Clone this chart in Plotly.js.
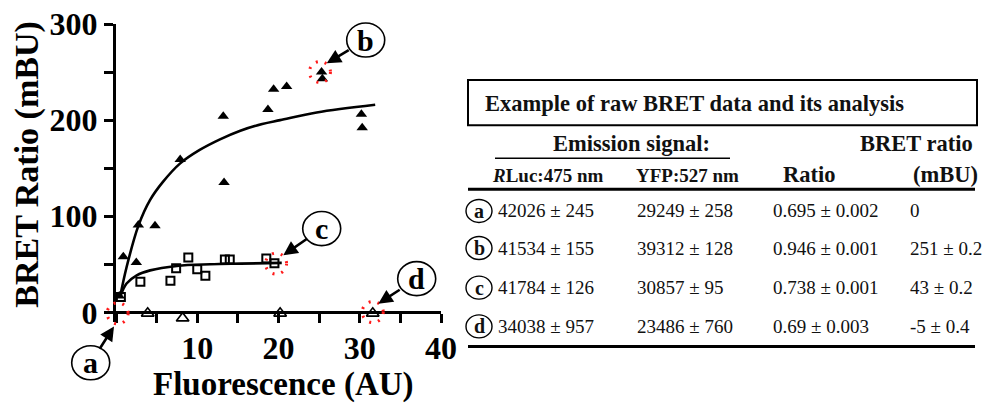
<!DOCTYPE html>
<html>
<head>
<meta charset="utf-8">
<script src="https://cdn.plot.ly/plotly-3.0.1.min.js"></script>
<style>html,body{margin:0;padding:0;background:#fff;}#chart{width:991px;height:404px;}</style>
</head>
<body>
<div id="chart"></div>
<script>
// ---- Chart data ----
const filledTriX = [0.4, 0.9, 2.5, 2.75, 4.8, 7.9, 13.2, 13.3, 18.7, 19.4, 21.0, 25.3, 25.4, 30.2, 30.3];
const filledTriY = [17, 58, 52, 91, 90, 159, 204, 135, 211, 232, 235, 250, 243, 206, 192];
const squareX = [0.6, 3.0, 6.7, 7.4, 8.9, 10.0, 11.0, 13.4, 14.0, 18.5, 19.5];
const squareY = [16, 32, 33, 46, 57, 45, 38, 55, 55, 56, 51];
const openTriX = [3.9, 8.2, 20.2, 31.6];
const openTriY = [-1, -6, -1, -1];
const fitTopX = [0.5, 1.3, 2.75, 4.2, 5.8, 7.9, 10.3, 12.8, 15.3, 18.0, 20.2, 24.7, 31.9];
const fitTopY = [16, 47, 90, 117, 136, 155, 169, 180, 189, 196, 200, 208, 216];
const fitLowX = [0.5, 1.3, 2.55, 4.2, 7.5, 11.6, 15.3, 20.4];
const fitLowY = [16, 30, 38.5, 43.7, 48.3, 50, 50.7, 51.5];

const xTickVals = [0, 5, 10, 15, 20, 25, 30, 35, 40];
const xTickText = ['', '', '10', '', '20', '', '30', '', '40'];
const yTickVals = [0, 50, 100, 150, 200, 250, 300];
const yTickText = ['0', '', '100', '', '200', '', '300'];
const xTitle = 'Fluorescence (AU)';
const yTitle = 'BRET Ratio (mBU)';

// highlighted example points (a, b, c, d)
const pointLabels = ['a', 'b', 'c', 'd'];
const pointX = [0.2, 25.1, 19.7, 31.6];
const pointY = [-1, 250, 50.7, 0.3];

// ---- Table data ----
const tableTitle = 'Example of raw BRET data and its analysis';
const rowLabels = ['a', 'b', 'c', 'd'];
const rlucVals = ['42026 ± 245', '41534 ± 155', '41784 ± 126', '34038 ± 957'];
const yfpVals = ['29249 ± 258', '39312 ± 128', '30857 ± 95', '23486 ± 760'];
const ratioVals = ['0.695 ± 0.002', '0.946 ± 0.001', '0.738 ± 0.001', '0.69 ± 0.003'];
const bretVals = ['0', '251 ± 0.2', '43 ± 0.2', '-5 ± 0.4'];

// ---- Layout helpers ----
const X_RANGE = [0, 40], Y_RANGE = [-10, 300];
const L = 116, R = 441, T = 24, PB = 321.6, ORIGIN_Y = 312;
const PX = p => (p - L) / (R - L);          // page pixel -> paper x
const PY = p => (PB - p) / (PB - T);        // page pixel -> paper y
const DX = v => (v - X_RANGE[0]) / (X_RANGE[1] - X_RANGE[0]);  // data -> paper x
const DY = v => (v - Y_RANGE[0]) / (Y_RANGE[1] - Y_RANGE[0]);  // data -> paper y
const FAM = '"Liberation Serif", "Times New Roman", "DejaVu Serif", serif';

const traces = [
  {x: fitTopX, y: fitTopY, mode: 'lines', line: {color: '#000', width: 2.6, shape: 'spline'}, hoverinfo: 'skip'},
  {x: fitLowX, y: fitLowY, mode: 'lines', line: {color: '#000', width: 2.6, shape: 'spline'}, hoverinfo: 'skip'},
  {x: filledTriX, y: filledTriY, mode: 'markers', cliponaxis: false,
   marker: {symbol: 'triangle-up', size: 10, color: '#000', line: {width: 0}}},
  {x: squareX, y: squareY, mode: 'markers', cliponaxis: false,
   marker: {symbol: 'square-open', size: 8, color: '#000', line: {width: 2}}},
  {x: openTriX, y: openTriY, mode: 'markers', cliponaxis: false,
   marker: {symbol: 'triangle-up', size: 11, color: '#fff', line: {width: 1.6, color: '#000'}}}
];

const shapes = [];
const annotations = [];

// red dotted circles around example points
pointX.forEach((px, i) => {
  shapes.push({type: 'circle', xref: 'paper', yref: 'paper', xsizemode: 'pixel', ysizemode: 'pixel',
    xanchor: DX(px), yanchor: DY(pointY[i]), x0: -10.5, x1: 10.5, y0: -10.5, y1: 10.5,
    line: {color: '#ff1a1a', width: 3, dash: '2px,7px'}});
});

// circled letters with arrows (pixel centers of the circles / arrow tips)
const labelCenters = [[90.7, 362.3], [365.7, 40], [321.7, 228.3], [416.7, 278.3]];
const labelTips = [[114, 326], [326.7, 63.3], [283.3, 255], [378.3, 303.3]];
const labelPads = [1, 8, 8, 8];
pointLabels.forEach((lab, i) => {
  const c = labelCenters[i], t = labelTips[i];
  shapes.push({type: 'circle', xref: 'paper', yref: 'paper',
    x0: PX(c[0] - 19), x1: PX(c[0] + 19), y0: PY(c[1] + 17), y1: PY(c[1] - 17),
    line: {color: '#000', width: 1.6}});
  annotations.push({xref: 'paper', yref: 'paper', x: PX(t[0]), y: PY(t[1]),
    ax: c[0] - t[0], ay: c[1] - t[1], axref: 'pixel', ayref: 'pixel',
    text: '<b>' + lab + '</b>', font: {family: FAM, size: 30, color: '#000'},
    showarrow: true, arrowhead: 2, arrowsize: 1.1, arrowwidth: 2.6, arrowcolor: '#000',
    borderpad: labelPads[i], standoff: 0});
});

// axis titles
annotations.push({xref: 'paper', yref: 'paper', x: PX(283), y: PY(403.5), text: '<b>' + xTitle + '</b>',
  xanchor: 'center', yanchor: 'bottom', showarrow: false, borderpad: 0,
  font: {family: FAM, size: 33, color: '#000'}});
annotations.push({xref: 'paper', yref: 'paper', x: PX(27.5), y: PY(164), text: '<b>' + yTitle + '</b>',
  textangle: -90, xanchor: 'center', yanchor: 'middle', showarrow: false, borderpad: 0,
  font: {family: FAM, size: 34, color: '#000'}});

// ---- table ----
shapes.push({type: 'rect', xref: 'paper', yref: 'paper', x0: PX(468), x1: PX(977), y0: PY(125), y1: PY(80),
  line: {color: '#000', width: 2}});
shapes.push({type: 'line', xref: 'paper', yref: 'paper', x0: PX(495), x1: PX(730), y0: PY(158), y1: PY(158),
  line: {color: '#000', width: 1.6}});
shapes.push({type: 'line', xref: 'paper', yref: 'paper', x0: PX(468), x1: PX(975), y0: PY(189), y1: PY(189),
  line: {color: '#000', width: 3}});
shapes.push({type: 'line', xref: 'paper', yref: 'paper', x0: PX(468), x1: PX(975), y0: PY(346), y1: PY(346),
  line: {color: '#000', width: 3}});

function txt(text, px, py, size, anchor) {
  annotations.push({xref: 'paper', yref: 'paper', x: PX(px), y: PY(py), text: text,
    xanchor: anchor || 'left', yanchor: 'middle', showarrow: false, borderpad: 0,
    font: {family: FAM, size: size, color: '#111'}});
}
txt('<b>' + tableTitle + '</b>', 484, 103, 22.5);
txt('<b>Emission signal:</b>', 631, 143, 22.5, 'center');
txt('<b>BRET ratio</b>', 859, 143, 22.5);
txt('<b><i>R</i>Luc:475 nm</b>', 491, 175, 19);
txt('<b>YFP:527 nm</b>', 635, 175, 19);
txt('<b>Ratio</b>', 782, 174, 22.5);
txt('<b>(mBU)</b>', 912, 174, 22.5);

const rowY = [210.7, 247.7, 287.3, 326];
const colX = [497, 636, 772, 909];
rowLabels.forEach((lab, i) => {
  const y = rowY[i];
  shapes.push({type: 'circle', xref: 'paper', yref: 'paper',
    x0: PX(479 - 13), x1: PX(479 + 13), y0: PY(y + 11.5), y1: PY(y - 11.5),
    line: {color: '#000', width: 1.4}});
  txt('<b>' + lab + '</b>', 479, y, 20, 'center');
  txt(rlucVals[i], colX[0], y, 19);
  txt(yfpVals[i], colX[1], y, 19);
  txt(ratioVals[i], colX[2], y, 19);
  txt(bretVals[i], colX[3], y, 19);
});

const axisFont = {family: FAM, size: 32, color: '#000', weight: 'bold'};
const layout = {
  width: 991, height: 404,
  margin: {l: L, r: 991 - R, t: T, b: 404 - PB, pad: 0},
  paper_bgcolor: '#fff', plot_bgcolor: '#fff',
  showlegend: false,
  font: {family: FAM},
  xaxis: {range: X_RANGE, tickmode: 'array', tickvals: xTickVals, ticktext: xTickText,
    anchor: 'free', position: PY(ORIGIN_Y),
    showline: true, linewidth: 3, linecolor: '#000', ticks: 'outside', ticklen: 9, tickwidth: 3, tickcolor: '#000',
    showgrid: false, zeroline: false, tickfont: axisFont, ticklabelstandoff: -3},
  yaxis: {range: Y_RANGE, tickmode: 'array', tickvals: yTickVals, ticktext: yTickText,
    showline: true, linewidth: 3, linecolor: '#000', ticks: 'outside', ticklen: 9, tickwidth: 3, tickcolor: '#000',
    showgrid: false, zeroline: false, tickfont: axisFont, ticklabelstandoff: 0},
  shapes: shapes,
  annotations: annotations
};

Plotly.newPlot('chart', traces, layout, {staticPlot: true, displayModeBar: false});
</script>
</body>
</html>
